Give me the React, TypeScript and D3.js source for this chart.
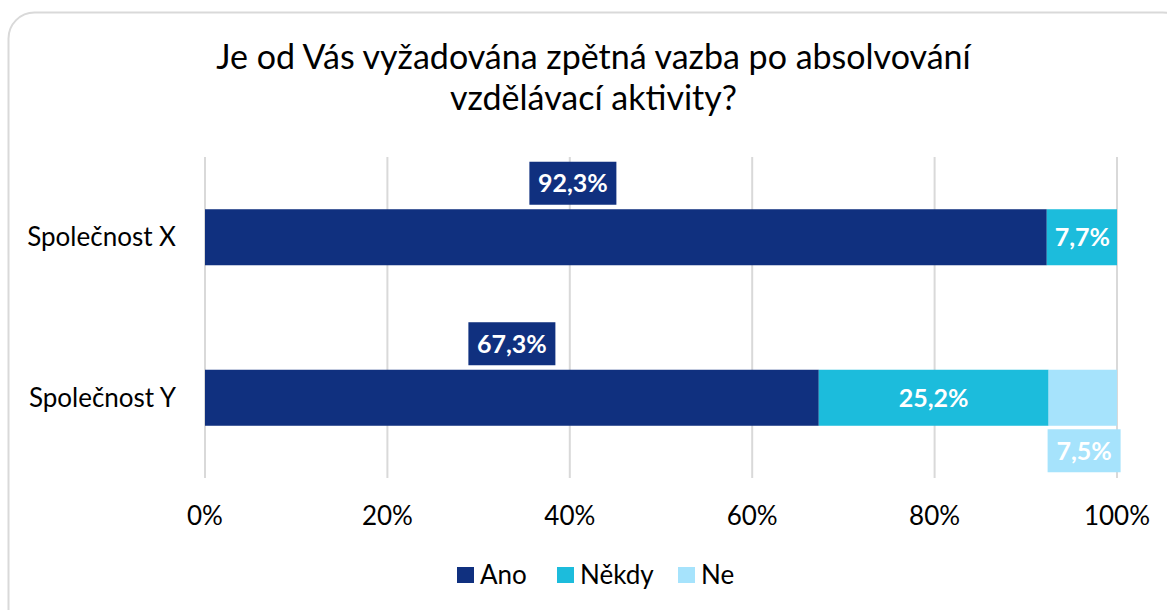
import React from "react";
import * as d3 from "d3";

const categories = ["Společnost X", "Společnost Y"];
const seriesNames = ["Ano", "Někdy", "Ne"];
const ano = [92.3, 67.3];
const nekdy = [7.7, 25.2];
const ne = [0, 7.5];
const ticks = [0, 20, 40, 60, 80, 100];
const titleLines = ["Je od Vás vyžadována zpětná vazba po absolvování", "vzdělávací aktivity?"];
const colors = ["#10307f", "#1cbcdc", "#a6e3fc"];

const W = 1167;
const H = 610;
const FONT = "Lato, 'Open Sans', sans-serif";

export default function App() {
  const x = d3.scaleLinear().domain([0, 100]).range([205, 1117]);
  const y = d3
    .scaleBand<string>()
    .domain(categories)
    .range([157, 478])
    .paddingInner(0.651)
    .paddingOuter(0.3255);
  const bw = y.bandwidth();

  const table = categories.map((c, i) => ({ cat: c, Ano: ano[i], "Někdy": nekdy[i], Ne: ne[i] }));
  const stack = d3.stack<any>().keys(seriesNames)(table);

  const fmt = (v: number) => v.toFixed(1).replace(".", ",") + "%";

  const labels: any[] = [];
  stack.forEach((layer, si) => {
    layer.forEach((d, ci) => {
      const v = d[1] - d[0];
      if (v <= 0) return;
      const y0 = y(categories[ci])!;
      const x0 = x(d[0]);
      const x1 = x(d[1]);
      const text = fmt(v);
      const bwid = 14 * text.length + 17;
      let cx = (x0 + x1) / 2;
      let cy = y0 + bw / 2;
      let box = false;
      let anchor = "middle";
      if (si === 0) {
        cy = y0 - 26;
        box = true;
        if (ci === 0) cx = cx - 53;
      } else if (si === 1 && v < 10) {
        cx = x1 - 7;
        anchor = "end";
      } else if (si === 2) {
        cy = y0 + bw + 25;
        cx = x0 - 1 + bwid / 2;
        box = true;
      }
      labels.push({ cx, cy, box, anchor, text, bwid, color: colors[si] });
    });
  });

  return (
    <svg width={W} height={H} style={{ position: "absolute", left: 0, top: 0, background: "#fff" }}>
      <rect x={8.5} y={12.5} width={1180} height={640} rx={26} fill="#fff" stroke="#d9d9d9" strokeWidth={2} />
      {titleLines.map((t, i) => (
        <text key={i} x={593.5} y={69 + i * 41} textAnchor="middle" fontFamily={FONT} fontSize={34} fill="#000">
          {t}
        </text>
      ))}
      {ticks.map((t) => (
        <line key={"g" + t} x1={x(t)} x2={x(t)} y1={157} y2={478} stroke="#d9d9d9" strokeWidth={2} />
      ))}
      {ticks.map((t) => (
        <text key={"t" + t} x={x(t)} y={525} textAnchor="middle" fontFamily={FONT} fontSize={26} fill="#000">
          {t + "%"}
        </text>
      ))}
      {categories.map((c) => (
        <text key={c} x={176} y={y(c)! + bw / 2 + 9} textAnchor="end" fontFamily={FONT} fontSize={26} fill="#000">
          {c}
        </text>
      ))}
      {stack.map((layer, si) =>
        layer.map((d, ci) => (
          <rect
            key={si + "-" + ci}
            x={x(d[0])}
            y={y(categories[ci])}
            width={Math.max(0, x(d[1]) - x(d[0]))}
            height={bw}
            fill={colors[si]}
          />
        ))
      )}
      {labels.map((l, i) => (
        <g key={"l" + i}>
          {l.box && <rect x={l.cx - l.bwid / 2} y={l.cy - 21.5} width={l.bwid} height={43} fill={l.color} />}
          <text
            x={l.cx}
            y={l.cy + 9}
            textAnchor={l.anchor}
            fontFamily={FONT}
            fontWeight="bold"
            fontSize={25}
            fill="#fff"
          >
            {l.text}
          </text>
        </g>
      ))}
      {seriesNames.map((s, i) => {
        const lx = [457, 557, 678][i];
        return (
          <g key={s}>
            <rect x={lx} y={567} width={17} height={16} fill={colors[i]} />
            <text x={lx + 23} y={584} fontFamily={FONT} fontSize={26} fill="#000">
              {s}
            </text>
          </g>
        );
      })}
    </svg>
  );
}
